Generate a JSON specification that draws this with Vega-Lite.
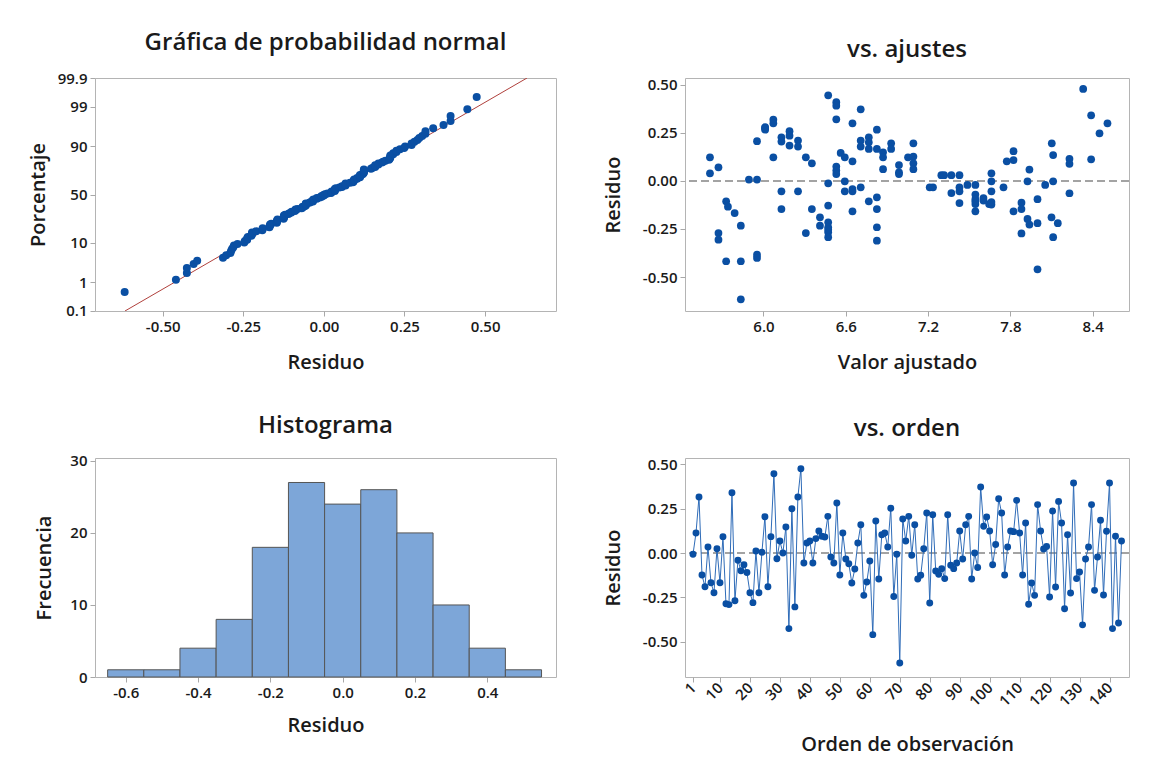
{
  "$schema": "https://vega.github.io/schema/vega-lite/v6.json",
  "background": "white",
  "padding": {"left": 27, "top": 30, "right": 10, "bottom": 10},
  "datasets": {
    "recta": [{"residuo": -0.617, "z": -3.0902}, {"residuo": 0.630, "z": 3.0902}],
    "prob": [
      {"residuo": -0.618, "z": -2.587}, {"residuo": -0.459, "z": -2.264}, {"residuo": -0.425, "z": -2.082}, {"residuo": -0.425, "z": -1.950},
      {"residuo": -0.404, "z": -1.845}, {"residuo": -0.393, "z": -1.757}, {"residuo": -0.313, "z": -1.681}, {"residuo": -0.303, "z": -1.613},
      {"residuo": -0.290, "z": -1.553}, {"residuo": -0.288, "z": -1.497}, {"residuo": -0.285, "z": -1.446}, {"residuo": -0.281, "z": -1.398},
      {"residuo": -0.279, "z": -1.354}, {"residuo": -0.268, "z": -1.311}, {"residuo": -0.247, "z": -1.272}, {"residuo": -0.245, "z": -1.233},
      {"residuo": -0.238, "z": -1.197}, {"residuo": -0.238, "z": -1.162}, {"residuo": -0.236, "z": -1.129}, {"residuo": -0.225, "z": -1.096},
      {"residuo": -0.223, "z": -1.065}, {"residuo": -0.223, "z": -1.035}, {"residuo": -0.223, "z": -1.006}, {"residuo": -0.210, "z": -0.977},
      {"residuo": -0.191, "z": -0.950}, {"residuo": -0.190, "z": -0.923}, {"residuo": -0.190, "z": -0.897}, {"residuo": -0.169, "z": -0.871},
      {"residuo": -0.169, "z": -0.846}, {"residuo": -0.167, "z": -0.821}, {"residuo": -0.167, "z": -0.797}, {"residuo": -0.163, "z": -0.774},
      {"residuo": -0.146, "z": -0.750}, {"residuo": -0.146, "z": -0.728}, {"residuo": -0.146, "z": -0.705}, {"residuo": -0.144, "z": -0.683},
      {"residuo": -0.144, "z": -0.661}, {"residuo": -0.125, "z": -0.640}, {"residuo": -0.124, "z": -0.619}, {"residuo": -0.124, "z": -0.598},
      {"residuo": -0.124, "z": -0.577}, {"residuo": -0.124, "z": -0.557}, {"residuo": -0.120, "z": -0.537}, {"residuo": -0.110, "z": -0.517},
      {"residuo": -0.107, "z": -0.497}, {"residuo": -0.101, "z": -0.477}, {"residuo": -0.100, "z": -0.458}, {"residuo": -0.090, "z": -0.439},
      {"residuo": -0.088, "z": -0.420}, {"residuo": -0.088, "z": -0.401}, {"residuo": -0.082, "z": -0.382}, {"residuo": -0.069, "z": -0.364},
      {"residuo": -0.066, "z": -0.345}, {"residuo": -0.066, "z": -0.327}, {"residuo": -0.060, "z": -0.309}, {"residuo": -0.056, "z": -0.291},
      {"residuo": -0.056, "z": -0.273}, {"residuo": -0.056, "z": -0.255}, {"residuo": -0.056, "z": -0.237}, {"residuo": -0.045, "z": -0.219},
      {"residuo": -0.041, "z": -0.201}, {"residuo": -0.034, "z": -0.184}, {"residuo": -0.034, "z": -0.166}, {"residuo": -0.034, "z": -0.148},
      {"residuo": -0.032, "z": -0.131}, {"residuo": -0.022, "z": -0.113}, {"residuo": -0.022, "z": -0.096}, {"residuo": -0.013, "z": -0.078},
      {"residuo": -0.007, "z": -0.061}, {"residuo": -0.007, "z": -0.043}, {"residuo": 0.000, "z": -0.026}, {"residuo": 0.000, "z": -0.009},
      {"residuo": 0.004, "z": 0.009}, {"residuo": 0.011, "z": 0.026}, {"residuo": 0.022, "z": 0.043}, {"residuo": 0.024, "z": 0.061},
      {"residuo": 0.024, "z": 0.078}, {"residuo": 0.034, "z": 0.096}, {"residuo": 0.034, "z": 0.113}, {"residuo": 0.034, "z": 0.131},
      {"residuo": 0.034, "z": 0.148}, {"residuo": 0.037, "z": 0.166}, {"residuo": 0.048, "z": 0.184}, {"residuo": 0.056, "z": 0.201},
      {"residuo": 0.056, "z": 0.219}, {"residuo": 0.067, "z": 0.237}, {"residuo": 0.067, "z": 0.255}, {"residuo": 0.067, "z": 0.273},
      {"residuo": 0.067, "z": 0.291}, {"residuo": 0.081, "z": 0.309}, {"residuo": 0.090, "z": 0.327}, {"residuo": 0.092, "z": 0.345},
      {"residuo": 0.092, "z": 0.364}, {"residuo": 0.094, "z": 0.382}, {"residuo": 0.094, "z": 0.401}, {"residuo": 0.103, "z": 0.420},
      {"residuo": 0.103, "z": 0.439}, {"residuo": 0.112, "z": 0.458}, {"residuo": 0.112, "z": 0.477}, {"residuo": 0.112, "z": 0.497},
      {"residuo": 0.112, "z": 0.517}, {"residuo": 0.120, "z": 0.537}, {"residuo": 0.122, "z": 0.557}, {"residuo": 0.124, "z": 0.577},
      {"residuo": 0.124, "z": 0.598}, {"residuo": 0.124, "z": 0.619}, {"residuo": 0.124, "z": 0.640}, {"residuo": 0.124, "z": 0.661},
      {"residuo": 0.146, "z": 0.683}, {"residuo": 0.150, "z": 0.705}, {"residuo": 0.159, "z": 0.728}, {"residuo": 0.159, "z": 0.750},
      {"residuo": 0.159, "z": 0.774}, {"residuo": 0.169, "z": 0.797}, {"residuo": 0.169, "z": 0.821}, {"residuo": 0.180, "z": 0.846},
      {"residuo": 0.184, "z": 0.871}, {"residuo": 0.191, "z": 0.897}, {"residuo": 0.202, "z": 0.923}, {"residuo": 0.204, "z": 0.950},
      {"residuo": 0.206, "z": 0.977}, {"residuo": 0.206, "z": 1.006}, {"residuo": 0.206, "z": 1.035}, {"residuo": 0.215, "z": 1.065},
      {"residuo": 0.215, "z": 1.096}, {"residuo": 0.225, "z": 1.129}, {"residuo": 0.225, "z": 1.162}, {"residuo": 0.236, "z": 1.197},
      {"residuo": 0.249, "z": 1.233}, {"residuo": 0.252, "z": 1.272}, {"residuo": 0.272, "z": 1.311}, {"residuo": 0.272, "z": 1.354},
      {"residuo": 0.281, "z": 1.398}, {"residuo": 0.290, "z": 1.446}, {"residuo": 0.296, "z": 1.497}, {"residuo": 0.305, "z": 1.553},
      {"residuo": 0.315, "z": 1.613}, {"residuo": 0.315, "z": 1.681}, {"residuo": 0.339, "z": 1.757}, {"residuo": 0.371, "z": 1.845},
      {"residuo": 0.393, "z": 1.950}, {"residuo": 0.393, "z": 2.082}, {"residuo": 0.445, "z": 2.264}, {"residuo": 0.474, "z": 2.587}
    ],
    "ajuste": [
      {"ajustado": 5.610, "residuo": 0.123}, {"ajustado": 5.610, "residuo": 0.040}, {"ajustado": 5.672, "residuo": 0.071}, {"ajustado": 5.728, "residuo": -0.106},
      {"ajustado": 5.741, "residuo": -0.134}, {"ajustado": 5.790, "residuo": -0.167}, {"ajustado": 5.672, "residuo": -0.271}, {"ajustado": 5.672, "residuo": -0.306},
      {"ajustado": 5.728, "residuo": -0.418}, {"ajustado": 5.835, "residuo": -0.233}, {"ajustado": 5.835, "residuo": -0.418}, {"ajustado": 5.835, "residuo": -0.616},
      {"ajustado": 5.894, "residuo": 0.007}, {"ajustado": 5.953, "residuo": 0.007}, {"ajustado": 5.953, "residuo": 0.207}, {"ajustado": 5.953, "residuo": -0.384},
      {"ajustado": 5.953, "residuo": -0.401}, {"ajustado": 6.012, "residuo": 0.280}, {"ajustado": 6.012, "residuo": 0.267}, {"ajustado": 6.072, "residuo": 0.319},
      {"ajustado": 6.072, "residuo": 0.300}, {"ajustado": 6.072, "residuo": 0.123}, {"ajustado": 6.131, "residuo": 0.227}, {"ajustado": 6.131, "residuo": 0.205},
      {"ajustado": 6.131, "residuo": -0.054}, {"ajustado": 6.131, "residuo": -0.146}, {"ajustado": 6.190, "residuo": 0.259}, {"ajustado": 6.190, "residuo": 0.236},
      {"ajustado": 6.190, "residuo": 0.184}, {"ajustado": 6.252, "residuo": 0.210}, {"ajustado": 6.252, "residuo": 0.179}, {"ajustado": 6.252, "residuo": -0.054},
      {"ajustado": 6.309, "residuo": 0.123}, {"ajustado": 6.353, "residuo": 0.092}, {"ajustado": 6.309, "residuo": -0.271}, {"ajustado": 6.353, "residuo": -0.146},
      {"ajustado": 6.412, "residuo": -0.189}, {"ajustado": 6.412, "residuo": -0.233}, {"ajustado": 6.472, "residuo": 0.446}, {"ajustado": 6.472, "residuo": -0.012},
      {"ajustado": 6.472, "residuo": -0.128}, {"ajustado": 6.472, "residuo": -0.215}, {"ajustado": 6.472, "residuo": -0.241}, {"ajustado": 6.472, "residuo": -0.267},
      {"ajustado": 6.472, "residuo": -0.293}, {"ajustado": 6.531, "residuo": 0.410}, {"ajustado": 6.531, "residuo": 0.392}, {"ajustado": 6.531, "residuo": 0.321},
      {"ajustado": 6.531, "residuo": 0.075}, {"ajustado": 6.531, "residuo": 0.054}, {"ajustado": 6.531, "residuo": 0.036}, {"ajustado": 6.563, "residuo": 0.146},
      {"ajustado": 6.593, "residuo": 0.123}, {"ajustado": 6.593, "residuo": -0.002}, {"ajustado": 6.593, "residuo": -0.054}, {"ajustado": 6.649, "residuo": 0.300},
      {"ajustado": 6.649, "residuo": 0.102}, {"ajustado": 6.649, "residuo": -0.042}, {"ajustado": 6.649, "residuo": -0.054}, {"ajustado": 6.649, "residuo": -0.158},
      {"ajustado": 6.709, "residuo": 0.373}, {"ajustado": 6.709, "residuo": 0.210}, {"ajustado": 6.709, "residuo": 0.179}, {"ajustado": 6.709, "residuo": -0.033},
      {"ajustado": 6.768, "residuo": 0.227}, {"ajustado": 6.768, "residuo": 0.201}, {"ajustado": 6.768, "residuo": 0.167}, {"ajustado": 6.768, "residuo": -0.106},
      {"ajustado": 6.827, "residuo": 0.267}, {"ajustado": 6.827, "residuo": 0.167}, {"ajustado": 6.827, "residuo": -0.085}, {"ajustado": 6.827, "residuo": -0.146},
      {"ajustado": 6.827, "residuo": -0.241}, {"ajustado": 6.827, "residuo": -0.311}, {"ajustado": 6.872, "residuo": 0.149}, {"ajustado": 6.872, "residuo": 0.123},
      {"ajustado": 6.872, "residuo": 0.061}, {"ajustado": 6.931, "residuo": 0.196}, {"ajustado": 6.931, "residuo": 0.167}, {"ajustado": 6.988, "residuo": 0.083},
      {"ajustado": 6.988, "residuo": 0.045}, {"ajustado": 6.988, "residuo": 0.036}, {"ajustado": 7.054, "residuo": 0.123}, {"ajustado": 7.093, "residuo": 0.196},
      {"ajustado": 7.093, "residuo": 0.127}, {"ajustado": 7.093, "residuo": 0.092}, {"ajustado": 7.093, "residuo": 0.061}, {"ajustado": 7.212, "residuo": -0.033},
      {"ajustado": 7.236, "residuo": -0.033}, {"ajustado": 7.297, "residuo": 0.030}, {"ajustado": 7.317, "residuo": 0.030}, {"ajustado": 7.370, "residuo": 0.030},
      {"ajustado": 7.370, "residuo": -0.063}, {"ajustado": 7.429, "residuo": 0.030}, {"ajustado": 7.429, "residuo": -0.033}, {"ajustado": 7.429, "residuo": -0.054},
      {"ajustado": 7.429, "residuo": -0.115}, {"ajustado": 7.487, "residuo": -0.021}, {"ajustado": 7.545, "residuo": -0.021}, {"ajustado": 7.545, "residuo": -0.071},
      {"ajustado": 7.545, "residuo": -0.094}, {"ajustado": 7.545, "residuo": -0.120}, {"ajustado": 7.545, "residuo": -0.158}, {"ajustado": 7.604, "residuo": -0.089},
      {"ajustado": 7.604, "residuo": -0.102}, {"ajustado": 7.645, "residuo": -0.120}, {"ajustado": 7.662, "residuo": 0.040}, {"ajustado": 7.662, "residuo": -0.002},
      {"ajustado": 7.662, "residuo": -0.054}, {"ajustado": 7.662, "residuo": -0.123}, {"ajustado": 7.750, "residuo": -0.033}, {"ajustado": 7.774, "residuo": 0.102},
      {"ajustado": 7.823, "residuo": 0.155}, {"ajustado": 7.823, "residuo": 0.109}, {"ajustado": 7.823, "residuo": -0.158}, {"ajustado": 7.881, "residuo": -0.113},
      {"ajustado": 7.881, "residuo": -0.146}, {"ajustado": 7.881, "residuo": -0.273}, {"ajustado": 7.925, "residuo": -0.002}, {"ajustado": 7.939, "residuo": 0.059},
      {"ajustado": 7.925, "residuo": -0.198}, {"ajustado": 7.939, "residuo": -0.227}, {"ajustado": 7.998, "residuo": -0.095}, {"ajustado": 7.998, "residuo": -0.220},
      {"ajustado": 7.998, "residuo": -0.460}, {"ajustado": 8.054, "residuo": -0.021}, {"ajustado": 8.102, "residuo": 0.196}, {"ajustado": 8.112, "residuo": 0.135},
      {"ajustado": 8.112, "residuo": -0.002}, {"ajustado": 8.100, "residuo": -0.189}, {"ajustado": 8.146, "residuo": -0.220}, {"ajustado": 8.112, "residuo": -0.293},
      {"ajustado": 8.231, "residuo": 0.115}, {"ajustado": 8.231, "residuo": 0.089}, {"ajustado": 8.231, "residuo": -0.064}, {"ajustado": 8.331, "residuo": 0.479},
      {"ajustado": 8.389, "residuo": 0.342}, {"ajustado": 8.389, "residuo": 0.113}, {"ajustado": 8.450, "residuo": 0.248}, {"ajustado": 8.508, "residuo": 0.300},
      {"ajustado": 6.012, "residuo": 0.275}, {"ajustado": 7.545, "residuo": -0.105}, {"ajustado": 6.472, "residuo": -0.254}, {"ajustado": 7.662, "residuo": -0.110}
    ],
    "hist": [
      {"desde": -0.65, "hasta": -0.55, "frecuencia": 1}, {"desde": -0.55, "hasta": -0.45, "frecuencia": 1},
      {"desde": -0.45, "hasta": -0.35, "frecuencia": 4}, {"desde": -0.35, "hasta": -0.25, "frecuencia": 8},
      {"desde": -0.25, "hasta": -0.15, "frecuencia": 18}, {"desde": -0.15, "hasta": -0.05, "frecuencia": 27},
      {"desde": -0.05, "hasta": 0.05, "frecuencia": 24}, {"desde": 0.05, "hasta": 0.15, "frecuencia": 26},
      {"desde": 0.15, "hasta": 0.25, "frecuencia": 20}, {"desde": 0.25, "hasta": 0.35, "frecuencia": 10},
      {"desde": 0.35, "hasta": 0.45, "frecuencia": 4}, {"desde": 0.45, "hasta": 0.55, "frecuencia": 1}
    ],
    "orden": [
      {"obs": 1, "residuo": -0.007}, {"obs": 2, "residuo": 0.112}, {"obs": 3, "residuo": 0.315}, {"obs": 4, "residuo": -0.124},
      {"obs": 5, "residuo": -0.190}, {"obs": 6, "residuo": 0.034}, {"obs": 7, "residuo": -0.167}, {"obs": 8, "residuo": -0.223},
      {"obs": 9, "residuo": 0.024}, {"obs": 10, "residuo": -0.167}, {"obs": 11, "residuo": 0.092}, {"obs": 12, "residuo": -0.285},
      {"obs": 13, "residuo": -0.290}, {"obs": 14, "residuo": 0.339}, {"obs": 15, "residuo": -0.268}, {"obs": 16, "residuo": -0.041},
      {"obs": 17, "residuo": -0.100}, {"obs": 18, "residuo": -0.066}, {"obs": 19, "residuo": -0.110}, {"obs": 20, "residuo": -0.223},
      {"obs": 21, "residuo": -0.279}, {"obs": 22, "residuo": 0.011}, {"obs": 23, "residuo": -0.223}, {"obs": 24, "residuo": 0.004},
      {"obs": 25, "residuo": 0.204}, {"obs": 26, "residuo": -0.190}, {"obs": 27, "residuo": 0.092}, {"obs": 28, "residuo": 0.445},
      {"obs": 29, "residuo": -0.032}, {"obs": 30, "residuo": 0.067}, {"obs": 31, "residuo": 0.000}, {"obs": 32, "residuo": 0.146},
      {"obs": 33, "residuo": -0.425}, {"obs": 34, "residuo": 0.249}, {"obs": 35, "residuo": -0.303}, {"obs": 36, "residuo": 0.315},
      {"obs": 37, "residuo": 0.474}, {"obs": 38, "residuo": -0.056}, {"obs": 39, "residuo": 0.056}, {"obs": 40, "residuo": 0.067},
      {"obs": 41, "residuo": -0.056}, {"obs": 42, "residuo": 0.081}, {"obs": 43, "residuo": 0.124}, {"obs": 44, "residuo": 0.094},
      {"obs": 45, "residuo": 0.090}, {"obs": 46, "residuo": 0.206}, {"obs": 47, "residuo": -0.022}, {"obs": 48, "residuo": -0.056},
      {"obs": 49, "residuo": 0.281}, {"obs": 50, "residuo": -0.124}, {"obs": 51, "residuo": 0.112}, {"obs": 52, "residuo": -0.034},
      {"obs": 53, "residuo": -0.060}, {"obs": 54, "residuo": -0.169}, {"obs": 55, "residuo": -0.090}, {"obs": 56, "residuo": 0.056},
      {"obs": 57, "residuo": 0.159}, {"obs": 58, "residuo": -0.238}, {"obs": 59, "residuo": -0.163}, {"obs": 60, "residuo": -0.045},
      {"obs": 61, "residuo": -0.459}, {"obs": 62, "residuo": 0.180}, {"obs": 63, "residuo": -0.146}, {"obs": 64, "residuo": 0.103},
      {"obs": 65, "residuo": 0.112}, {"obs": 66, "residuo": 0.034}, {"obs": 67, "residuo": 0.252}, {"obs": 68, "residuo": -0.245},
      {"obs": 69, "residuo": -0.007}, {"obs": 70, "residuo": -0.618}, {"obs": 71, "residuo": 0.191}, {"obs": 72, "residuo": 0.067},
      {"obs": 73, "residuo": 0.206}, {"obs": 74, "residuo": -0.013}, {"obs": 75, "residuo": 0.159}, {"obs": 76, "residuo": -0.146},
      {"obs": 77, "residuo": -0.125}, {"obs": 78, "residuo": 0.024}, {"obs": 79, "residuo": 0.225}, {"obs": 80, "residuo": -0.281},
      {"obs": 81, "residuo": 0.215}, {"obs": 82, "residuo": -0.101}, {"obs": 83, "residuo": -0.120}, {"obs": 84, "residuo": -0.088},
      {"obs": 85, "residuo": -0.144}, {"obs": 86, "residuo": 0.215}, {"obs": 87, "residuo": -0.069}, {"obs": 88, "residuo": -0.088},
      {"obs": 89, "residuo": -0.056}, {"obs": 90, "residuo": 0.124}, {"obs": 91, "residuo": -0.034}, {"obs": 92, "residuo": 0.159},
      {"obs": 93, "residuo": 0.206}, {"obs": 94, "residuo": -0.146}, {"obs": 95, "residuo": 0.000}, {"obs": 96, "residuo": -0.082},
      {"obs": 97, "residuo": 0.371}, {"obs": 98, "residuo": 0.150}, {"obs": 99, "residuo": 0.202}, {"obs": 100, "residuo": 0.124},
      {"obs": 101, "residuo": -0.066}, {"obs": 102, "residuo": 0.048}, {"obs": 103, "residuo": 0.305}, {"obs": 104, "residuo": 0.225},
      {"obs": 105, "residuo": -0.124}, {"obs": 106, "residuo": 0.034}, {"obs": 107, "residuo": 0.124}, {"obs": 108, "residuo": 0.120},
      {"obs": 109, "residuo": 0.296}, {"obs": 110, "residuo": 0.112}, {"obs": 111, "residuo": -0.124}, {"obs": 112, "residuo": 0.169},
      {"obs": 113, "residuo": -0.288}, {"obs": 114, "residuo": -0.169}, {"obs": 115, "residuo": -0.238}, {"obs": 116, "residuo": 0.272},
      {"obs": 117, "residuo": 0.124}, {"obs": 118, "residuo": 0.022}, {"obs": 119, "residuo": 0.037}, {"obs": 120, "residuo": -0.247},
      {"obs": 121, "residuo": 0.236}, {"obs": 122, "residuo": -0.191}, {"obs": 123, "residuo": 0.290}, {"obs": 124, "residuo": 0.169},
      {"obs": 125, "residuo": -0.313}, {"obs": 126, "residuo": 0.103}, {"obs": 127, "residuo": -0.225}, {"obs": 128, "residuo": 0.393},
      {"obs": 129, "residuo": -0.144}, {"obs": 130, "residuo": -0.107}, {"obs": 131, "residuo": -0.404}, {"obs": 132, "residuo": -0.034},
      {"obs": 133, "residuo": 0.034}, {"obs": 134, "residuo": 0.272}, {"obs": 135, "residuo": -0.210}, {"obs": 136, "residuo": -0.022},
      {"obs": 137, "residuo": 0.184}, {"obs": 138, "residuo": -0.236}, {"obs": 139, "residuo": 0.122}, {"obs": 140, "residuo": 0.393},
      {"obs": 141, "residuo": -0.425}, {"obs": 142, "residuo": 0.094}, {"obs": 143, "residuo": -0.393}, {"obs": 144, "residuo": 0.067}
    ],
    "cero": [{"ref": 0}]
  },
  "columns": 2,
  "spacing": {"row": 147, "column": 129},
  "bounds": "flush",
  "align": "each",
  "concat": [
    {
      "width": 461,
      "height": 233,
      "title": "Gráfica de probabilidad normal",
      "layer": [
        {
          "data": {"name": "recta"},
          "mark": {"type": "line", "color": "#b0403c", "strokeWidth": 1, "clip": true},
          "encoding": {
            "x": {"field": "residuo", "type": "quantitative", "scale": {"domain": [-0.71, 0.72], "nice": false, "zero": false},
              "axis": {"values": [-0.5, -0.25, 0, 0.25, 0.5], "tickCount": 30, "labelExpr": "replace(format(datum.value, '.2f'), '−', '-')", "titlePadding": 18}, "title": "Residuo"},
            "y": {"field": "z", "type": "quantitative", "scale": {"domain": [-3.0902, 3.0902], "nice": false, "zero": false},
              "axis": {"values": [-3.09, -2.3263, -1.2816, 0, 1.2816, 2.3263, 3.09], "tickCount": 30,
                "labelExpr": "datum.value < -3 ? '0.1' : datum.value < -2 ? '1' : datum.value < -1 ? '10' : datum.value < 1 ? '50' : datum.value < 2 ? '90' : datum.value < 3 ? '99' : '99.9'",
                "titlePadding": 9}, "title": "Porcentaje"}
          }
        },
        {
          "data": {"name": "prob"},
          "mark": {"type": "point", "filled": true, "color": "#0a4fa3", "opacity": 1, "size": 64},
          "encoding": {
            "x": {"field": "residuo", "type": "quantitative"},
            "y": {"field": "z", "type": "quantitative"}
          }
        }
      ]
    },
    {
      "width": 444,
      "height": 233,
      "title": "vs. ajustes",
      "layer": [
        {
          "data": {"name": "cero"},
          "mark": {"type": "rule", "color": "#a3a3a3", "strokeWidth": 2, "strokeDash": [8, 4]},
          "encoding": {"y": {"field": "ref", "type": "quantitative"}}
        },
        {
          "data": {"name": "ajuste"},
          "mark": {"type": "point", "filled": true, "color": "#0a4fa3", "opacity": 1, "size": 60},
          "encoding": {
            "x": {"field": "ajustado", "type": "quantitative", "scale": {"domain": [5.428, 8.665], "nice": false, "zero": false},
              "axis": {"values": [6.0, 6.6, 7.2, 7.8, 8.4], "tickCount": 30, "format": ".1f", "titlePadding": 18}, "title": "Valor ajustado"},
            "y": {"field": "residuo", "type": "quantitative", "scale": {"domain": [-0.677, 0.536], "nice": false, "zero": false},
              "axis": {"values": [-0.5, -0.25, 0, 0.25, 0.5], "tickCount": 30, "labelExpr": "replace(format(datum.value, '.2f'), '−', '-')", "titlePadding": 19}, "title": "Residuo"}
          }
        }
      ]
    },
    {
      "width": 461,
      "height": 219,
      "title": "Histograma",
      "data": {"name": "hist"},
      "mark": {"type": "bar", "color": "#7da6d8", "stroke": "#555555", "strokeWidth": 1, "opacity": 1},
      "encoding": {
        "x": {"field": "desde", "type": "quantitative", "scale": {"domain": [-0.685, 0.59], "nice": false, "zero": false},
          "axis": {"values": [-0.6, -0.4, -0.2, 0, 0.2, 0.4], "tickCount": 30, "labelExpr": "replace(format(datum.value, '.1f'), '−', '-')", "titlePadding": 15}, "title": "Residuo"},
        "x2": {"field": "hasta"},
        "y": {"field": "frecuencia", "type": "quantitative", "scale": {"domain": [0, 30.4], "nice": false},
          "axis": {"values": [0, 10, 20, 30], "tickCount": 30, "titlePadding": 15}, "title": "Frecuencia"},
        "y2": {"datum": 0}
      }
    },
    {
      "width": 444,
      "height": 219,
      "title": "vs. orden",
      "layer": [
        {
          "data": {"name": "cero"},
          "mark": {"type": "rule", "color": "#a3a3a3", "strokeWidth": 2, "strokeDash": [8, 4]},
          "encoding": {"y": {"field": "ref", "type": "quantitative"}}
        },
        {
          "data": {"name": "orden"},
          "mark": {"type": "line", "color": "#2f6cb8", "strokeWidth": 1},
          "encoding": {
            "x": {"field": "obs", "type": "quantitative", "scale": {"domain": [-1.67, 146.5], "nice": false, "zero": false},
              "axis": {"values": [1, 10, 20, 30, 40, 50, 60, 70, 80, 90, 100, 110, 120, 130, 140], "tickCount": 30, "labelAngle": -45, "labelAlign": "right", "labelBaseline": "middle", "titlePadding": 26}, "title": "Orden de observación"},
            "y": {"field": "residuo", "type": "quantitative", "scale": {"domain": [-0.697, 0.534], "nice": false, "zero": false},
              "axis": {"values": [-0.5, -0.25, 0, 0.25, 0.5], "tickCount": 30, "labelExpr": "replace(format(datum.value, '.2f'), '−', '-')", "titlePadding": 19}, "title": "Residuo"}
          }
        },
        {
          "data": {"name": "orden"},
          "mark": {"type": "point", "filled": true, "color": "#0a4fa3", "opacity": 1, "size": 48},
          "encoding": {
            "x": {"field": "obs", "type": "quantitative"},
            "y": {"field": "residuo", "type": "quantitative"}
          }
        }
      ]
    }
  ],
  "config": {
    "font": "Open Sans",
    "view": {"stroke": "#b4b4b4", "strokeWidth": 1},
    "axis": {
      "domain": false, "grid": false, "tickColor": "#a8a8a8", "tickSize": 5, "labelPadding": 3, "labelOverlap": false,
      "labelFont": "Open Sans", "labelFontSize": 15, "labelFontWeight": 600, "labelColor": "#1a1a1a",
      "titleFont": "Open Sans", "titleFontSize": 20, "titleFontWeight": 600, "titleColor": "#1a1a1a"
    },
    "title": {"font": "Open Sans", "fontSize": 24, "fontWeight": 600, "color": "#1a1a1a", "offset": 16, "anchor": "middle"}
  }
}
